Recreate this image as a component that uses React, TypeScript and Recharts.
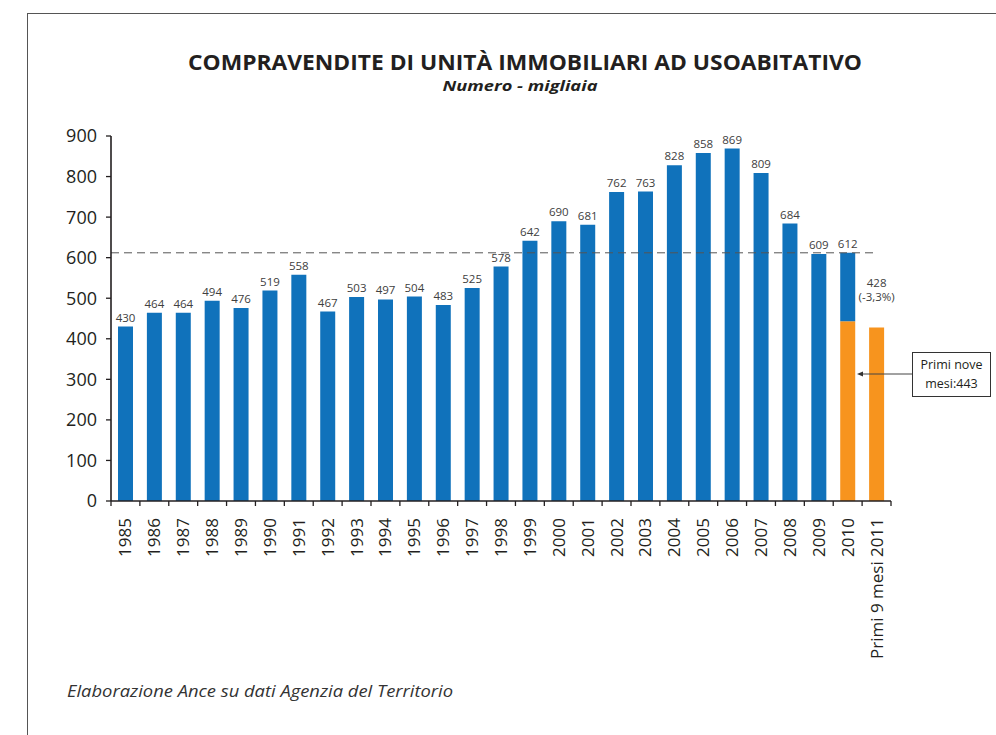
import React from 'react';
import { BarChart, Bar, XAxis, YAxis, ReferenceLine, LabelList } from 'recharts';

const categories: string[] = [
  '1985', '1986', '1987', '1988', '1989', '1990', '1991', '1992', '1993', '1994',
  '1995', '1996', '1997', '1998', '1999', '2000', '2001', '2002', '2003', '2004',
  '2005', '2006', '2007', '2008', '2009', '2010', 'Primi 9 mesi 2011',
];

const annualTotals: (number | null)[] = [
  430, 464, 464, 494, 476, 519, 558, 467, 503, 497,
  504, 483, 525, 578, 642, 690, 681, 762, 763, 828,
  858, 869, 809, 684, 609, 612, null,
];

const firstNineMonths: (number | null)[] = [
  null, null, null, null, null, null, null, null, null, null,
  null, null, null, null, null, null, null, null, null, null,
  null, null, null, null, null, 443, 428,
];

const changeNotes: string[] = [
  '', '', '', '', '', '', '', '', '', '',
  '', '', '', '', '', '', '', '', '', '',
  '', '', '', '', '', '', '(-3,3%)',
];

const yTicks = [0, 100, 200, 300, 400, 500, 600, 700, 800, 900];
const referenceValue = 612;
const referenceEndCategory = '2010';
const annotationLines = ['Primi nove', 'mesi:443'];

const titleText = 'COMPRAVENDITE DI UNITÀ IMMOBILIARI AD USOABITATIVO';
const subtitleText = 'Numero - migliaia';
const sourceText = 'Elaborazione Ance su dati Agenzia del Territorio';

const BLUE = '#1072bb';
const ORANGE = '#f7941e';
const INK = '#231f20';
const FONT = '"Open Sans", "Noto Sans", sans-serif';

const data = categories.map((c, i) => {
  const total = annualTotals[i];
  const nine = firstNineMonths[i];
  return {
    category: c,
    nine,
    rest: total == null ? null : total - (nine ?? 0),
    total,
    nineLabel: total == null ? nine : null,
    note: changeNotes[i] ? changeNotes[i] : null,
  };
});

const XTick = (props: any) => {
  const { x, y, payload, index } = props;
  const off = payload && payload.offset != null ? payload.offset : 14.45;
  return (
    <g>
      <line x1={x - off} x2={x - off} y1={y} y2={y + 5} stroke={INK} strokeWidth={1.3} />
      {index === categories.length - 1 && (
        <line x1={x + off} x2={x + off} y1={y} y2={y + 5} stroke={INK} strokeWidth={1.3} />
      )}
      <text
        transform={`translate(${x + 6},${y + 17}) rotate(-90)`}
        textAnchor="end"
        fontSize={17}
        fill={INK}
        fontFamily={FONT}
      >
        {payload.value}
      </text>
    </g>
  );
};

const TopLabel = (props: any) => {
  const { x, y, width, value } = props;
  if (value == null) return null;
  return (
    <text x={x + width / 2} y={y - 5} textAnchor="middle" fontSize={11.5} fill="#404040" fontFamily={FONT}>
      {value}
    </text>
  );
};

const NineLabel = (props: any) => {
  const { x, y, width, value } = props;
  if (value == null || value === '') return null;
  return (
    <text x={x + width / 2} y={y - 40} textAnchor="middle" fontSize={11.5} fill="#404040" fontFamily={FONT}>
      {value}
    </text>
  );
};

const NoteLabel = (props: any) => {
  const { x, y, width, value } = props;
  if (value == null || value === '') return null;
  return (
    <text x={x + width / 2} y={y - 26} textAnchor="middle" fontSize={11.5} fill="#404040" fontFamily={FONT}>
      {value}
    </text>
  );
};

export default function App() {
  const refEnd = categories.indexOf(referenceEndCategory) + 0.5;
  return (
    <div style={{ position: 'absolute', left: 0, top: 0, width: 996, height: 735, background: '#fff' }}>
      <BarChart
        width={996}
        height={735}
        data={data}
        margin={{ top: 136, right: 105, bottom: 54, left: 0 }}
        barSize={15}
      >
        <XAxis
          xAxisId="cat"
          dataKey="category"
          interval={0}
          tickLine={false}
          tickSize={0}
          tickMargin={0}
          height={180}
          axisLine={{ stroke: INK, strokeWidth: 1.6 }}
          tick={<XTick />}
        />
        <XAxis xAxisId="idx" type="number" domain={[0, categories.length]} hide allowDataOverflow />
        <YAxis
          width={111}
          domain={[0, 900]}
          ticks={yTicks}
          interval={0}
          tickSize={5}
          tickMargin={9}
          axisLine={{ stroke: INK, strokeWidth: 1.6 }}
          tickLine={{ stroke: INK, strokeWidth: 1.3 }}
          tick={{ fontSize: 18, fill: INK, fontFamily: FONT }}
        />
        <Bar xAxisId="cat" dataKey="nine" stackId="s" fill={ORANGE} isAnimationActive={false}>
          <LabelList dataKey="nineLabel" content={<NineLabel />} />
          <LabelList dataKey="note" content={<NoteLabel />} />
        </Bar>
        <Bar xAxisId="cat" dataKey="rest" stackId="s" fill={BLUE} isAnimationActive={false}>
          <LabelList dataKey="total" content={<TopLabel />} />
        </Bar>
        <ReferenceLine
          xAxisId="idx"
          segment={[{ x: 0, y: referenceValue }, { x: refEnd, y: referenceValue }]}
          stroke="#555"
          strokeWidth={1}
          strokeDasharray="8 5"
        />
      </BarChart>
      <svg
        width={996}
        height={735}
        style={{ position: 'absolute', left: 0, top: 0, pointerEvents: 'none' }}
      >
        <line x1={27} y1={13.5} x2={996} y2={13.5} stroke="#555" strokeWidth={1} />
        <line x1={27.5} y1={13} x2={27.5} y2={735} stroke="#555" strokeWidth={1} />
        <text
          x={525}
          y={69.5}
          textAnchor="middle"
          fontSize={22}
          fontWeight={700}
          fill={INK}
          fontFamily={FONT}
          textLength={674}
          lengthAdjust="spacingAndGlyphs"
        >
          {titleText}
        </text>
        <text
          x={520}
          y={90.5}
          textAnchor="middle"
          fontSize={15}
          fontWeight={700}
          fontStyle="italic"
          fill={INK}
          fontFamily={FONT}
          textLength={155}
          lengthAdjust="spacingAndGlyphs"
        >
          {subtitleText}
        </text>
        <text
          x={67}
          y={697}
          fontSize={16}
          fontStyle="italic"
          fill="#333"
          fontFamily={FONT}
          textLength={386}
          lengthAdjust="spacingAndGlyphs"
        >
          {sourceText}
        </text>
        <line x1={912} y1={374} x2={860} y2={374} stroke="#444" strokeWidth={1} />
        <polygon points="857,374 863,371.5 863,376.5" fill="#333" />
        <rect x={912.5} y={352.5} width={78} height={44} fill="#fff" stroke="#333" strokeWidth={1} />
        <text x={951.5} y={369} textAnchor="middle" fontSize={12.5} fill={INK} fontFamily={FONT}>
          {annotationLines[0]}
        </text>
        <text x={951.5} y={388} textAnchor="middle" fontSize={12.5} fill={INK} fontFamily={FONT}>
          {annotationLines[1]}
        </text>
      </svg>
    </div>
  );
}
